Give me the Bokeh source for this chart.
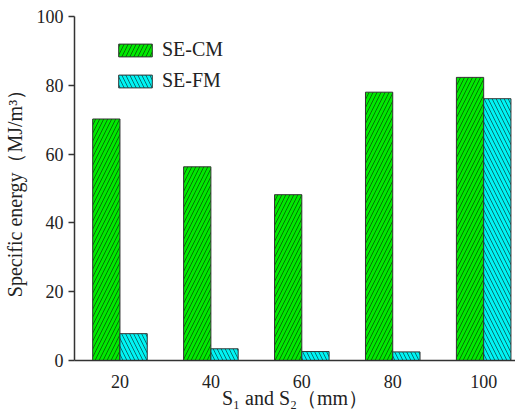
from bokeh.plotting import figure
from bokeh.models import ColumnDataSource, Legend, LegendItem, Range1d
from bokeh.embed import file_html
from bokeh.resources import INLINE

spacing = [20, 40, 60, 80, 100]
se_cm = [70.2, 56.3, 48.2, 78.0, 82.3]
se_fm = [7.8, 3.4, 2.6, 2.5, 76.1]
series_names = ["SE-CM", "SE-FM"]
y_ticks = [0, 20, 40, 60, 80, 100]

FONT = "Liberation Serif"

src = ColumnDataSource(dict(
    x_cm=[s - 3 for s in spacing],
    x_fm=[s + 3 for s in spacing],
    cm=se_cm,
    fm=se_fm,
))

p = figure(width=515, height=411, output_backend="svg", toolbar_location=None,
           x_range=Range1d(10, 107), y_range=Range1d(0, 100),
           min_border_left=65, min_border_right=0, min_border_top=16, min_border_bottom=51)
p.outline_line_color = None
p.grid.visible = False
p.background_fill_color = "white"

r1 = p.vbar(x="x_cm", top="cm", width=6, source=src, fill_color="#00EA00",
            line_color="#333333", line_width=1,
            hatch_pattern="/", hatch_color="#0a3a0a", hatch_alpha=0.7,
            hatch_scale=8, hatch_weight=1)
r2 = p.vbar(x="x_fm", top="fm", width=6, source=src, fill_color="#00F4F4",
            line_color="#333333", line_width=1,
            hatch_pattern="\\", hatch_color="#0a3a3a", hatch_alpha=0.7,
            hatch_scale=8, hatch_weight=1)

p.xaxis.ticker = spacing
p.yaxis.ticker = y_ticks
for ax in (p.xaxis, p.yaxis):
    ax.axis_line_color = "#333333"
    ax.axis_line_width = 1.5
    ax.major_tick_line_color = "#333333"
    ax.major_tick_line_width = 1.5
    ax.minor_tick_line_color = None
    ax.major_label_text_font = FONT
    ax.major_label_text_font_size = "18px"
    ax.major_label_text_color = "#222222"
    ax.axis_label_text_font = FONT
    ax.axis_label_text_font_size = "20px"
    ax.axis_label_text_font_style = "normal"
    ax.axis_label_text_color = "#222222"
p.xaxis.major_tick_line_color = None
p.xaxis.major_tick_out = 0
p.xaxis.major_tick_in = 0
p.xaxis.major_label_standoff = 14
p.yaxis.major_tick_out = 6
p.yaxis.major_tick_in = 0
p.yaxis.major_label_standoff = 5
p.xaxis.axis_label = "S\u2081 and S\u2082\uff08mm\uff09"
p.yaxis.axis_label = "Specific energy\uff08MJ/m\u00b3\uff09"
p.xaxis.axis_label_standoff = -4
p.yaxis.axis_label_standoff = 8

legend = Legend(items=[LegendItem(label=series_names[0], renderers=[r1]),
                       LegendItem(label=series_names[1], renderers=[r2])],
                location=(40, 268), glyph_width=42, glyph_height=16,
                spacing=8, padding=0, margin=0, label_standoff=6,
                border_line_color=None, background_fill_alpha=0,
                label_text_font=FONT, label_text_font_size="20px",
                label_text_color="#222222", label_height=16)
p.add_layout(legend)

open("out.html", "w").write(file_html(p, INLINE))
